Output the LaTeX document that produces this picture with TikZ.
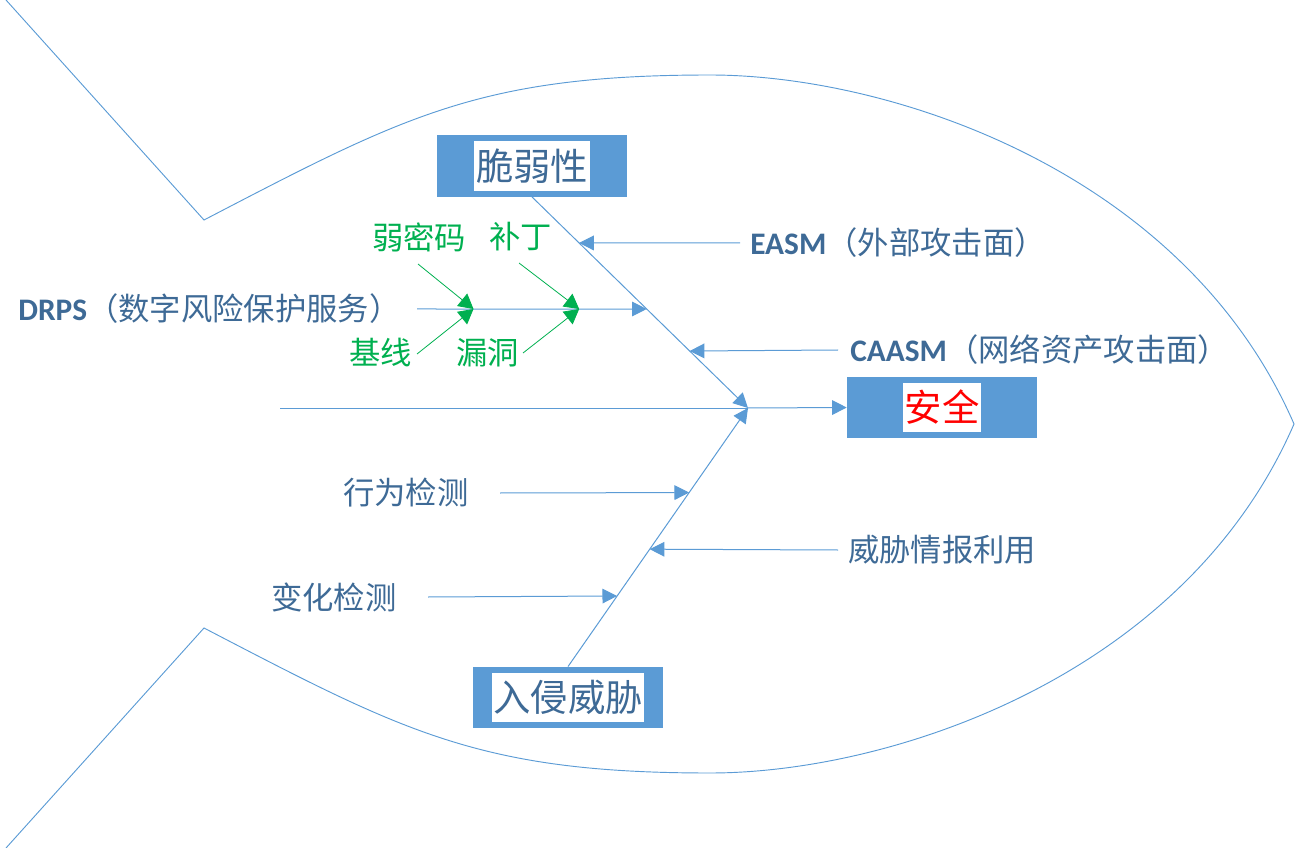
\documentclass[tikz,border=0pt]{standalone}
\usepackage{fontspec}
\setmainfont{Noto Sans CJK SC}
\newfontfamily\calib{Carlito}
\usetikzlibrary{arrows.meta,calc}
\definecolor{boxblue}{RGB}{91,155,213}
\definecolor{lineblue}{RGB}{91,155,213}
\definecolor{labelblue}{RGB}{62,106,150}
\definecolor{leafgreen}{RGB}{0,176,80}
\definecolor{safered}{RGB}{255,0,0}
\tikzset{
  bluebox/.style={fill=boxblue, inner sep=0pt, minimum width=142.5pt, minimum height=46pt},
  boxtext/.style={fill=white, text=labelblue, inner xsep=1.2pt, inner ysep=0pt, minimum height=37pt, font=\fontsize{28pt}{30pt}\selectfont},
  lbl/.style={text=labelblue, inner sep=0pt, anchor=west, font=\fontsize{23.5pt}{26pt}\selectfont},
  glbl/.style={text=leafgreen, inner sep=0pt, anchor=west, font=\fontsize{23.5pt}{26pt}\selectfont},
  bone/.style={draw=lineblue, line width=0.75pt},
  arr/.style={bone, -{Triangle[length=11pt,width=11pt]}},
  garr/.style={draw=leafgreen, line width=0.6pt, -{Triangle[length=11pt,width=12pt]}},
  fish/.style={draw=lineblue, line width=0.7pt}
}
\begin{document}
\begin{tikzpicture}[x=0.75pt,y=-0.75pt]
\useasboundingbox (0,0) rectangle (1295,848);
% fish outline
\draw[fish] (6,0) -- (204,220) .. controls (404,116) and (480,75) .. (710,75)
  .. controls (890,75) and (1184,171) .. (1294,424)
  .. controls (1184,677) and (890,773) .. (710,773)
  .. controls (480,773) and (404,732) .. (204,628) -- (6,848);
% boxes
\node[bluebox] (vul) at (532,166) {};
\node[boxtext] (vult) at (vul) {脆弱性};
\node[bluebox] (safe) at (942,407.5) {};
\node[boxtext, text=safered] (safet) at (safe) {安全};
\node[bluebox] (threat) at (568,697.5) {};
\node[boxtext] (threatt) at (threat) {入侵威胁};
% spine
\coordinate (J) at (748,408);
\coordinate (S) at (280,408);
\draw[bone] (S) -- (J);
\draw[arr] (J) -- (safe.west);
\draw[arr] (vul.south) -- (J);
\draw[arr] (threat.north) -- (J);
% points on bones
\path (vul.south) -- (J)
  coordinate[pos=0.218] (b1)
  coordinate[pos=0.531] (b2)
  coordinate[pos=0.730] (b3);
\path (threat.north) -- (J)
  coordinate[pos=0.673] (c1)
  coordinate[pos=0.454] (c2)
  coordinate[pos=0.273] (c3);
% labels
\node[lbl] (easm) at (750,243) {{\calib\bfseries EASM}（外部攻击面）};
\node[lbl] (caasm) at (850,350) {{\calib\bfseries CAASM}（网络资产攻击面）};
\node[lbl] (drps) at (18,309) {{\calib\bfseries DRPS}（数字风险保护服务）};
\node[lbl] (behav) at (343,493) {行为检测};
\node[lbl] (intel) at (848,550) {威胁情报利用};
\node[lbl] (change) at (271,597) {变化检测};
% start points of branch arrows
\coordinate (e0) at (740,243);
\coordinate (a0) at (838,350);
\coordinate (d0) at (417,309);
\coordinate (h0) at (500,493);
\coordinate (i0) at (838,550);
\coordinate (v0) at (428,597);
\draw[arr] (e0) -- (b1);
\draw[arr] (a0) -- (b3);
\draw[arr] (d0) -- (b2);
\draw[arr] (h0) -- (c1);
\draw[arr] (i0) -- (c2);
\draw[arr] (v0) -- (c3);
% green sub-causes
\path (d0) -- (b2) coordinate[pos=0.246] (g1) coordinate[pos=0.706] (g2);
\node[glbl] (weak) at (372,237) {弱密码};
\node[glbl] (patch) at (489,237) {补丁};
\node[glbl] (base) at (349,353) {基线};
\node[glbl] (hole) at (456,353) {漏洞};
\coordinate (w0) at (418,264);
\coordinate (p0) at (519,263);
\coordinate (s0) at (417,354);
\coordinate (o0) at (523,353);
\draw[garr] (w0) -- (g1);
\draw[garr] (s0) -- (g1);
\draw[garr] (p0) -- (g2);
\draw[garr] (o0) -- (g2);
\end{tikzpicture}
\end{document}
